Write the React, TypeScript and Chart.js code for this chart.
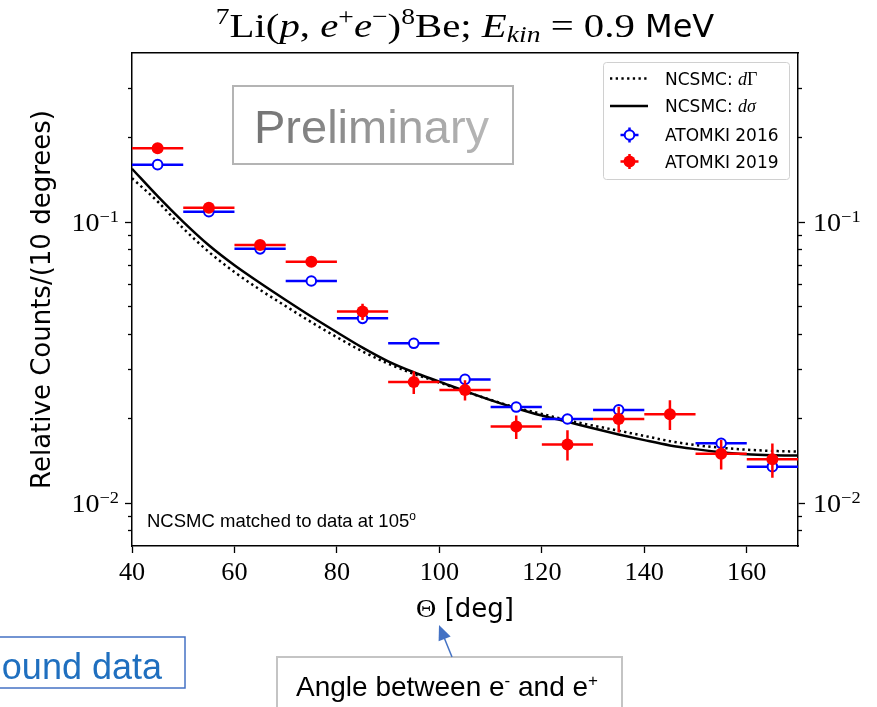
import React, { useEffect, useRef } from 'react';
import { Chart, registerables } from 'chart.js';

Chart.register(...registerables);

// ---- data -------------------------------------------------------------
// Half width of each 10-degree angular bin
const binHalfWidth = 5;

const atomki2016Angles = [45, 55, 65, 75, 85, 95, 105, 115, 125, 135, 155, 165];
const atomki2016Counts = [0.1603, 0.109, 0.0804, 0.0618, 0.0455, 0.0371, 0.0276, 0.022, 0.01995, 0.0215, 0.01635, 0.0135];
const atomki2016Errors = [0.002, 0.0015, 0.001, 0.0009, 0.0008, 0.0007, 0.0006, 0.0005, 0.0005, 0.0005, 0.0005, 0.0005];

const atomki2019Angles = [45, 55, 65, 75, 85, 95, 105, 115, 125, 135, 145, 155, 165];
const atomki2019Counts = [0.1834, 0.1127, 0.083, 0.0724, 0.0481, 0.027, 0.0253, 0.01875, 0.0162, 0.01995, 0.02075, 0.015, 0.01434];
const atomki2019Errors = [0.003, 0.002, 0.0015, 0.0012, 0.0032, 0.0025, 0.0021, 0.0018, 0.002, 0.0021, 0.0025, 0.0018, 0.002];

const theoryAngles = [40, 45, 50, 55, 60, 65, 70, 75, 80, 85, 90, 95, 100, 105, 110, 115, 120, 125, 130, 135, 140, 145, 150, 155, 160, 165, 170];
const ncsmcDSigma = [0.155, 0.1238, 0.1003, 0.0828, 0.0703, 0.0608, 0.0529, 0.0462, 0.0406, 0.0358, 0.032, 0.02926, 0.0271, 0.02506, 0.0233, 0.0218, 0.02052, 0.0195, 0.01849, 0.01758, 0.01678, 0.01607, 0.01559, 0.01521, 0.01494, 0.01483, 0.0148];
const ncsmcDGamma = [0.1434, 0.1185, 0.0951, 0.0784, 0.0665, 0.0575, 0.0503, 0.0441, 0.039, 0.0347, 0.0314, 0.0289, 0.0269, 0.025, 0.02335, 0.0219, 0.0208, 0.01975, 0.0189, 0.01813, 0.01737, 0.01664, 0.01612, 0.01576, 0.01552, 0.01536, 0.01528];

const xMin = 40;
const xMax = 170;
const yMin = 0.00705;
const yMax = 0.4;
const xTickValues = [40, 60, 80, 100, 120, 140, 160];
const yMajorTicks = [0.01, 0.1];
const yMajorExponents = ['−2', '−1'];
const yMinorTicks = [0.008, 0.009, 0.02, 0.03, 0.04, 0.05, 0.06, 0.07, 0.08, 0.09, 0.2, 0.3];

// ---- fonts ------------------------------------------------------------
const SERIF = '"Liberation Serif", "Times New Roman", serif';
const SANS = '"DejaVu Sans", sans-serif';
const ARIAL = '"Liberation Sans", Arial, sans-serif';

// A piece of rich text: font, optional baseline shift and horizontal stretch
type Run = { t: string; f: string; dy?: number; sx?: number };

function drawRuns(ctx: CanvasRenderingContext2D, runs: Run[], x: number, y: number, align: 'left' | 'center' | 'right') {
  const widths = runs.map((r) => {
    ctx.font = r.f;
    return ctx.measureText(r.t).width * (r.sx || 1);
  });
  const total = widths.reduce((a, b) => a + b, 0);
  let cx = align === 'center' ? x - total / 2 : align === 'right' ? x - total : x;
  ctx.textAlign = 'left';
  runs.forEach((r, i) => {
    ctx.font = r.f;
    ctx.save();
    ctx.translate(cx, y + (r.dy || 0));
    ctx.scale(r.sx || 1, 1);
    ctx.fillText(r.t, 0, 0);
    ctx.restore();
    cx += widths[i];
  });
  return total;
}

function drawErrorMarker(ctx: CanvasRenderingContext2D, x: number, y: number, color: string, filled: boolean) {
  ctx.strokeStyle = color;
  ctx.lineWidth = 2.5;
  ctx.beginPath();
  ctx.moveTo(x - 9, y);
  ctx.lineTo(x + 9, y);
  ctx.moveTo(x, y - 7.5);
  ctx.lineTo(x, y + 7.5);
  ctx.stroke();
  ctx.beginPath();
  if (filled) {
    ctx.arc(x, y, 6, 0, Math.PI * 2);
    ctx.fillStyle = color;
    ctx.fill();
  } else {
    ctx.arc(x, y, 4.8, 0, Math.PI * 2);
    ctx.fillStyle = '#ffffff';
    ctx.fill();
    ctx.lineWidth = 2;
    ctx.stroke();
  }
}

// Horizontal (bin width) and vertical (uncertainty) bars, drawn under each dataset's markers
const errorBarsPlugin = {
  id: 'errorBars',
  beforeDatasetDraw(chart: any, args: any) {
    const ds = chart.data.datasets[args.index];
    if (!ds.errors) return;
    const xs = chart.scales.x;
    const ys = chart.scales.y;
    const ctx: CanvasRenderingContext2D = chart.ctx;
    ctx.save();
    ctx.strokeStyle = ds.borderColor;
    ctx.lineWidth = 2.5;
    ds.data.forEach((p: { x: number; y: number }, i: number) => {
      const err = ds.errors[i];
      const px = xs.getPixelForValue(p.x);
      const py = ys.getPixelForValue(p.y);
      ctx.beginPath();
      ctx.moveTo(xs.getPixelForValue(p.x - binHalfWidth), py);
      ctx.lineTo(xs.getPixelForValue(p.x + binHalfWidth), py);
      ctx.moveTo(px, ys.getPixelForValue(p.y + err));
      ctx.lineTo(px, ys.getPixelForValue(p.y - err));
      ctx.stroke();
    });
    ctx.restore();
  },
};

// Titles, tick labels, legend and the text boxes
const decorationsPlugin = {
  id: 'decorations',
  afterDraw(chart: any) {
    const ctx: CanvasRenderingContext2D = chart.ctx;
    const area = chart.chartArea;
    const xs = chart.scales.x;
    const ys = chart.scales.y;
    const cx = (area.left + area.right) / 2;
    ctx.save();
    ctx.fillStyle = '#000';
    ctx.textBaseline = 'alphabetic';

    // title
    const T = 34;
    const S = 23;
    const W = 1.2;
    drawRuns(
      ctx,
      [
        { t: '7', f: `${S}px ${SERIF}`, dy: -13, sx: W },
        { t: 'Li(', f: `${T}px ${SERIF}`, sx: W },
        { t: 'p', f: `italic ${T}px ${SERIF}`, sx: W },
        { t: ', ', f: `${T}px ${SERIF}`, sx: W },
        { t: 'e', f: `italic ${T}px ${SERIF}`, sx: W },
        { t: '+', f: `${S}px ${SERIF}`, dy: -13, sx: W },
        { t: 'e', f: `italic ${T}px ${SERIF}`, sx: W },
        { t: '−', f: `${S}px ${SERIF}`, dy: -13, sx: W },
        { t: ')', f: `${T}px ${SERIF}`, sx: W },
        { t: '8', f: `${S}px ${SERIF}`, dy: -13, sx: W },
        { t: 'Be; ', f: `${T}px ${SERIF}`, sx: W },
        { t: 'E', f: `italic ${T}px ${SERIF}`, sx: W },
        { t: 'kin', f: `italic ${S}px ${SERIF}`, dy: 5, sx: W },
        { t: ' = 0.9 ', f: `${T}px ${SERIF}`, sx: W },
        { t: 'MeV', f: `32px ${SANS}` },
      ],
      cx,
      37,
      'center'
    );

    // x tick labels
    xTickValues.forEach((v) => {
      drawRuns(ctx, [{ t: String(v), f: `25px ${SERIF}`, sx: 1.05 }], xs.getPixelForValue(v), 580, 'center');
    });

    // y tick labels on both sides
    yMajorTicks.forEach((v, i) => {
      const py = ys.getPixelForValue(v);
      const runs: Run[] = [
        { t: '10', f: `26px ${SERIF}`, sx: 1.08 },
        { t: yMajorExponents[i], f: `17px ${SERIF}`, dy: -9, sx: 1.08 },
      ];
      drawRuns(ctx, runs, area.left - 13, py + 9, 'right');
      drawRuns(ctx, runs, area.right + 15, py + 9, 'left');
    });

    // axis titles
    drawRuns(
      ctx,
      [
        { t: 'Θ', f: `26px ${SERIF}`, sx: 1.08 },
        { t: ' [deg]', f: `26px ${SANS}` },
      ],
      cx,
      617,
      'center'
    );
    ctx.save();
    ctx.translate(50, (area.top + area.bottom) / 2);
    ctx.rotate(-Math.PI / 2);
    ctx.font = `26px ${SANS}`;
    ctx.textAlign = 'center';
    ctx.fillText('Relative Counts/(10 degrees)', 0, 0);
    ctx.restore();

    // "Preliminary" stamp
    ctx.strokeStyle = '#b4b4b4';
    ctx.lineWidth = 2;
    ctx.strokeRect(233, 86, 280, 78);
    const grad = ctx.createLinearGradient(255, 0, 492, 0);
    grad.addColorStop(0, '#747474');
    grad.addColorStop(1, '#b8b8b8');
    ctx.fillStyle = grad;
    ctx.font = `47px ${ARIAL}`;
    ctx.textAlign = 'left';
    ctx.fillText('Preliminary', 254, 143);

    // note on the normalisation
    ctx.fillStyle = '#000';
    drawRuns(
      ctx,
      [
        { t: 'NCSMC matched to data at 105', f: `18.5px ${ARIAL}` },
        { t: 'o', f: `12px ${ARIAL}`, dy: -7 },
      ],
      147,
      527,
      'left'
    );

    // legend
    ctx.beginPath();
    ctx.roundRect(603.5, 62.5, 186, 117, 3);
    ctx.fillStyle = 'rgba(255,255,255,0.85)';
    ctx.fill();
    ctx.strokeStyle = '#d0d0d0';
    ctx.lineWidth = 1;
    ctx.stroke();

    ctx.strokeStyle = '#000';
    ctx.lineWidth = 2.5;
    ctx.setLineDash([2.3, 3.4]);
    ctx.beginPath();
    ctx.moveTo(610, 78.5);
    ctx.lineTo(648, 78.5);
    ctx.stroke();
    ctx.setLineDash([]);
    ctx.beginPath();
    ctx.moveTo(610, 106);
    ctx.lineTo(648, 106);
    ctx.stroke();
    drawErrorMarker(ctx, 629.5, 135, '#0000ff', false);
    drawErrorMarker(ctx, 629.5, 161.5, '#ff0000', true);

    ctx.fillStyle = '#000';
    drawRuns(
      ctx,
      [
        { t: 'NCSMC: ', f: `17px ${SANS}` },
        { t: 'd', f: `italic 18px ${SERIF}` },
        { t: 'Γ', f: `18px ${SERIF}` },
      ],
      665,
      84.5,
      'left'
    );
    drawRuns(
      ctx,
      [
        { t: 'NCSMC: ', f: `17px ${SANS}` },
        { t: 'dσ', f: `italic 18px ${SERIF}` },
      ],
      665,
      112,
      'left'
    );
    drawRuns(ctx, [{ t: 'ATOMKI 2016', f: `17px ${SANS}` }], 665, 141, 'left');
    drawRuns(ctx, [{ t: 'ATOMKI 2019', f: `17px ${SANS}` }], 665, 167.5, 'left');

    // callout boxes below the axes
    ctx.strokeStyle = '#4472c4';
    ctx.lineWidth = 1.5;
    ctx.strokeRect(-10, 637, 195, 51);
    ctx.fillStyle = '#1f6fbf';
    drawRuns(ctx, [{ t: 'ound data', f: `36px ${ARIAL}` }], 162, 679, 'right');

    ctx.strokeStyle = '#c4c4c4';
    ctx.lineWidth = 2;
    ctx.strokeRect(277, 657, 345, 60);
    ctx.fillStyle = '#000';
    drawRuns(
      ctx,
      [
        { t: 'Angle between e', f: `28px ${ARIAL}` },
        { t: '-', f: `17px ${ARIAL}`, dy: -10 },
        { t: ' and e', f: `28px ${ARIAL}` },
        { t: '+', f: `17px ${ARIAL}`, dy: -10 },
      ],
      296,
      696,
      'left'
    );

    // arrow from the callout to the axis title
    const ax0 = 452;
    const ay0 = 657;
    const ax1 = 439;
    const ay1 = 625;
    const ang = Math.atan2(ay1 - ay0, ax1 - ax0);
    ctx.strokeStyle = '#4472c4';
    ctx.fillStyle = '#4472c4';
    ctx.lineWidth = 1.5;
    ctx.beginPath();
    ctx.moveTo(ax0, ay0);
    ctx.lineTo(ax1 - 10 * Math.cos(ang), ay1 - 10 * Math.sin(ang));
    ctx.stroke();
    ctx.beginPath();
    ctx.moveTo(ax1, ay1);
    ctx.lineTo(ax1 - 15 * Math.cos(ang) + 6.5 * Math.sin(ang), ay1 - 15 * Math.sin(ang) - 6.5 * Math.cos(ang));
    ctx.lineTo(ax1 - 15 * Math.cos(ang) - 6.5 * Math.sin(ang), ay1 - 15 * Math.sin(ang) + 6.5 * Math.cos(ang));
    ctx.closePath();
    ctx.fill();

    ctx.restore();
  },
};

function logAxis(position: 'left' | 'right', ticks: number[], tickLength: number, width: number, weight: number, border: boolean) {
  return {
    type: 'logarithmic',
    position,
    min: yMin,
    max: yMax,
    weight,
    afterBuildTicks: (s: any) => {
      s.ticks = ticks.map((v) => ({ value: v }));
    },
    afterFit: (s: any) => {
      s.width = width;
    },
    ticks: { display: false },
    grid: { drawOnChartArea: false, drawTicks: true, tickLength, tickColor: '#000', tickWidth: 1.3 },
    border: { display: border, color: '#000', width: 1.5 },
  };
}

export default function App() {
  const canvasRef = useRef<HTMLCanvasElement>(null);

  useEffect(() => {
    const canvas = canvasRef.current;
    if (!canvas) return;
    const chart = new Chart(canvas, {
      type: 'scatter',
      data: {
        datasets: [
          {
            label: 'NCSMC: dΓ',
            data: theoryAngles.map((x, i) => ({ x, y: ncsmcDGamma[i] })),
            showLine: true,
            borderColor: '#000',
            borderWidth: 2.5,
            borderDash: [2.3, 3.4],
            pointRadius: 0,
            cubicInterpolationMode: 'monotone',
            order: 4,
          },
          {
            label: 'NCSMC: dσ',
            data: theoryAngles.map((x, i) => ({ x, y: ncsmcDSigma[i] })),
            showLine: true,
            borderColor: '#000',
            borderWidth: 2.5,
            pointRadius: 0,
            cubicInterpolationMode: 'monotone',
            order: 3,
          },
          {
            label: 'ATOMKI 2016',
            data: atomki2016Angles.map((x, i) => ({ x, y: atomki2016Counts[i] })),
            errors: atomki2016Errors,
            borderColor: '#0000ff',
            backgroundColor: '#ffffff',
            pointRadius: 4.8,
            pointBorderWidth: 2,
            pointBorderColor: '#0000ff',
            pointBackgroundColor: '#ffffff',
            order: 2,
          } as any,
          {
            label: 'ATOMKI 2019',
            data: atomki2019Angles.map((x, i) => ({ x, y: atomki2019Counts[i] })),
            errors: atomki2019Errors,
            borderColor: '#ff0000',
            backgroundColor: '#ff0000',
            pointRadius: 6,
            pointBorderWidth: 0,
            pointBackgroundColor: '#ff0000',
            order: 1,
          } as any,
        ],
      },
      options: {
        responsive: false,
        animation: false,
        devicePixelRatio: 1,
        layout: { padding: { top: 53, left: 0, right: 0, bottom: 0 } },
        plugins: {
          legend: { display: false },
          title: { display: false },
          tooltip: { enabled: false },
        },
        scales: {
          x: {
            type: 'linear',
            position: 'bottom',
            min: xMin,
            max: xMax,
            afterBuildTicks: (s: any) => {
              s.ticks = xTickValues.map((v) => ({ value: v }));
            },
            afterFit: (s: any) => {
              s.height = 161;
            },
            ticks: { display: false },
            grid: { drawOnChartArea: false, drawTicks: true, tickLength: 7, tickColor: '#000', tickWidth: 1.3 },
            border: { display: true, color: '#000', width: 1.5 },
          },
          xTop: {
            type: 'linear',
            position: 'top',
            min: xMin,
            max: xMax,
            afterFit: (s: any) => {
              s.height = 0;
            },
            ticks: { display: false },
            grid: { display: false },
            border: { display: true, color: '#000', width: 1.5 },
          },
          y: logAxis('left', yMajorTicks, 7, 132, 1, true),
          yMinor: logAxis('left', yMinorTicks, 4, 0, 0, false),
          yRight: logAxis('right', yMajorTicks, 7, 79, 1, true),
          yRightMinor: logAxis('right', yMinorTicks, 4, 0, 0, false),
        } as any,
      },
      plugins: [errorBarsPlugin, decorationsPlugin],
    } as any);
    return () => chart.destroy();
  }, []);

  return (
    <div style={{ position: 'absolute', left: 0, top: 0, width: 877, height: 707, overflow: 'hidden', background: '#ffffff' }}>
      <canvas ref={canvasRef} width={877} height={707} style={{ display: 'block', width: 877, height: 707 }} />
    </div>
  );
}
